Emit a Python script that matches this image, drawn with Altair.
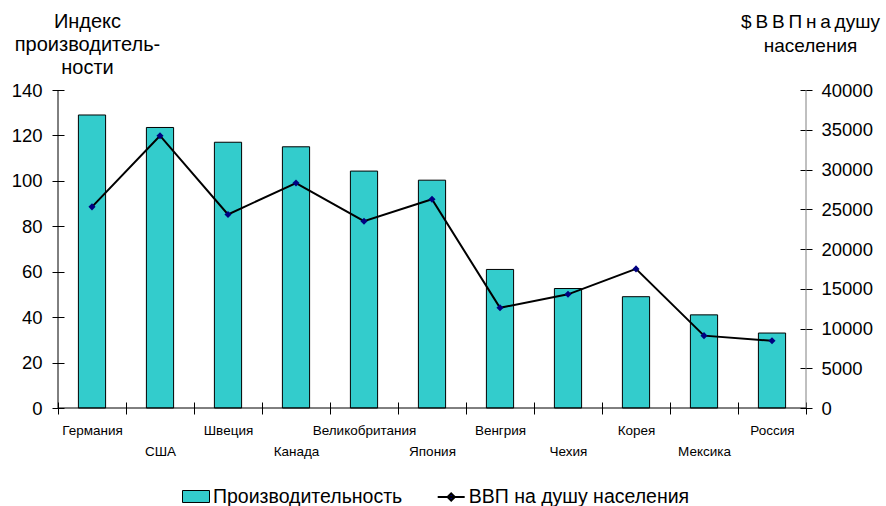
import json

import altair as alt
import pandas as pd

# Countries in display order, labour-productivity index and GDP per capita (USD)
countries = ["Германия", "США", "Швеция", "Канада", "Великобритания", "Япония",
             "Венгрия", "Чехия", "Корея", "Мексика", "Россия"]
productivity = [129, 123.5, 117, 115, 104.3, 100.3, 61, 52.6, 49, 41, 33]
gdp_per_capita = [25300, 34250, 24350, 28300, 23500, 26250, 12600, 14300, 17500, 9100, 8450]

bar_name = "Производительность"
line_name = "ВВП на душу населения"
left_title = ["Индекс", "производитель-", "ности"]
right_title = ["$\u2009В\u2009В\u2009П\u2009н\u2009а\u2009душу", "населения"]
left_ticks = list(range(0, 141, 20))
right_ticks = list(range(0, 40001, 5000))

df = pd.DataFrame({"country": countries, "prod": productivity, "gdp": gdp_per_capita})

FONT = "Liberation Sans"
W, H = 748, 318
TEAL = "#33CCCC"
NAVY = "#000080"

# alternate category labels between two rows
stagger = (f"indexof({json.dumps(countries, ensure_ascii=False)}, datum.value) % 2 == 1"
           " ? ['', datum.label] : datum.label")

x_enc = alt.X(
    "country:N", sort=countries, title=None,
    scale=alt.Scale(paddingInner=0, paddingOuter=0),
    axis=alt.Axis(tickBand="extent", offset=-6, tickSize=12, domain=False,
                  tickColor="black", labelAngle=0, labelFont=FONT, labelFontSize=13.5,
                  labelColor="black", labelPadding=9, labelExpr=stagger,
                  labelLineHeight=21, labelOverlap=False, labelBound=False),
)

bars = alt.Chart(df).transform_calculate(
    series=json.dumps(bar_name, ensure_ascii=False)
).mark_bar(
    width=alt.RelativeBandSize(0.4), stroke="black", strokeWidth=1
).encode(
    x=x_enc,
    y=alt.Y("prod:Q", scale=alt.Scale(domain=[0, 140], nice=False),
            axis=alt.Axis(orient="left", values=left_ticks, offset=-6, tickSize=12,
                          domain=False, grid=False, tickColor="black",
                          labelFont=FONT, labelFontSize=18.5, labelColor="black",
                          labelPadding=10,
                          title=left_title, titleAngle=0, titleX=23, titleY=-63,
                          titleAlign="center", titleBaseline="alphabetic",
                          titleFont=FONT, titleFontSize=20, titleFontWeight="normal",
                          titleColor="black", titleLineHeight=23)),
    fill=alt.Fill("series:N", scale=alt.Scale(range=[TEAL]),
                  legend=alt.Legend(orient="none", legendX=124, legendY=392.5,
                                    title=None, padding=0, labelLimit=400,
                                    symbolType="M-1,-0.444H1V0.444H-1Z",
                                    symbolSize=729, symbolStrokeColor="black",
                                    symbolStrokeWidth=1, labelOffset=3,
                                    labelFont=FONT, labelFontSize=19.5,
                                    labelColor="black")),
)

y_gdp = alt.Y("gdp:Q", scale=alt.Scale(domain=[0, 40000], nice=False),
              axis=alt.Axis(orient="right", values=right_ticks, format="d", offset=-6,
                            tickSize=12, domain=False, grid=False, tickColor="black",
                            labelFont=FONT, labelFontSize=18.5, labelColor="black",
                            labelPadding=9,
                            title=right_title, titleAngle=0, titleX=10, titleY=-63,
                            titleAlign="center", titleBaseline="alphabetic",
                            titleFont=FONT, titleFontSize=19, titleFontWeight="normal",
                            titleColor="black", titleLineHeight=24))

line = alt.Chart(df).transform_calculate(
    series=json.dumps(line_name, ensure_ascii=False)
).mark_line(strokeWidth=2).encode(
    x=x_enc,
    y=y_gdp,
    stroke=alt.Stroke("series:N", scale=alt.Scale(range=["black"]),
                      legend=alt.Legend(orient="none", legendX=378.7, legendY=392.5,
                                        title=None, padding=0, labelLimit=400,
                                        symbolType="M-1,0H1M0,-0.27L0.27,0L0,0.27L-0.27,0Z",
                                        symbolSize=729, symbolStrokeWidth=2,
                                        symbolStrokeColor="black",
                                        symbolFillColor=NAVY, labelOffset=3,
                                        labelFont=FONT, labelFontSize=19.5,
                                        labelColor="black")),
)

points = alt.Chart(df).mark_point(shape="diamond", filled=True, size=50, color=NAVY,
                                  opacity=1).encode(x=x_enc, y=y_gdp)

# axis lines of the plot frame (left, right, bottom)
frame = pd.DataFrame({"k": [0]})
left_line = alt.Chart(frame).mark_rule(color="black", strokeWidth=1).encode(
    x=alt.value(0), y=alt.value(0), y2=alt.value(H))
right_line = alt.Chart(frame).mark_rule(color="#808080", strokeWidth=1).encode(
    x=alt.value(W), y=alt.value(0), y2=alt.value(H))
bottom_line = alt.Chart(frame).mark_rule(color="black", strokeWidth=1).encode(
    x=alt.value(0), x2=alt.value(W), y=alt.value(H))

chart = alt.layer(
    bars, alt.layer(line, points), left_line, right_line, bottom_line
).resolve_scale(
    y="independent"
).properties(
    width=W, height=H,
    padding={"left": 58, "top": 90, "right": 80, "bottom": 98},
    autosize=alt.AutoSizeParams(type="none"),
    background="white",
).configure_view(stroke=None)

chart.save("out.html", embed_options={"renderer": "svg", "actions": False})
